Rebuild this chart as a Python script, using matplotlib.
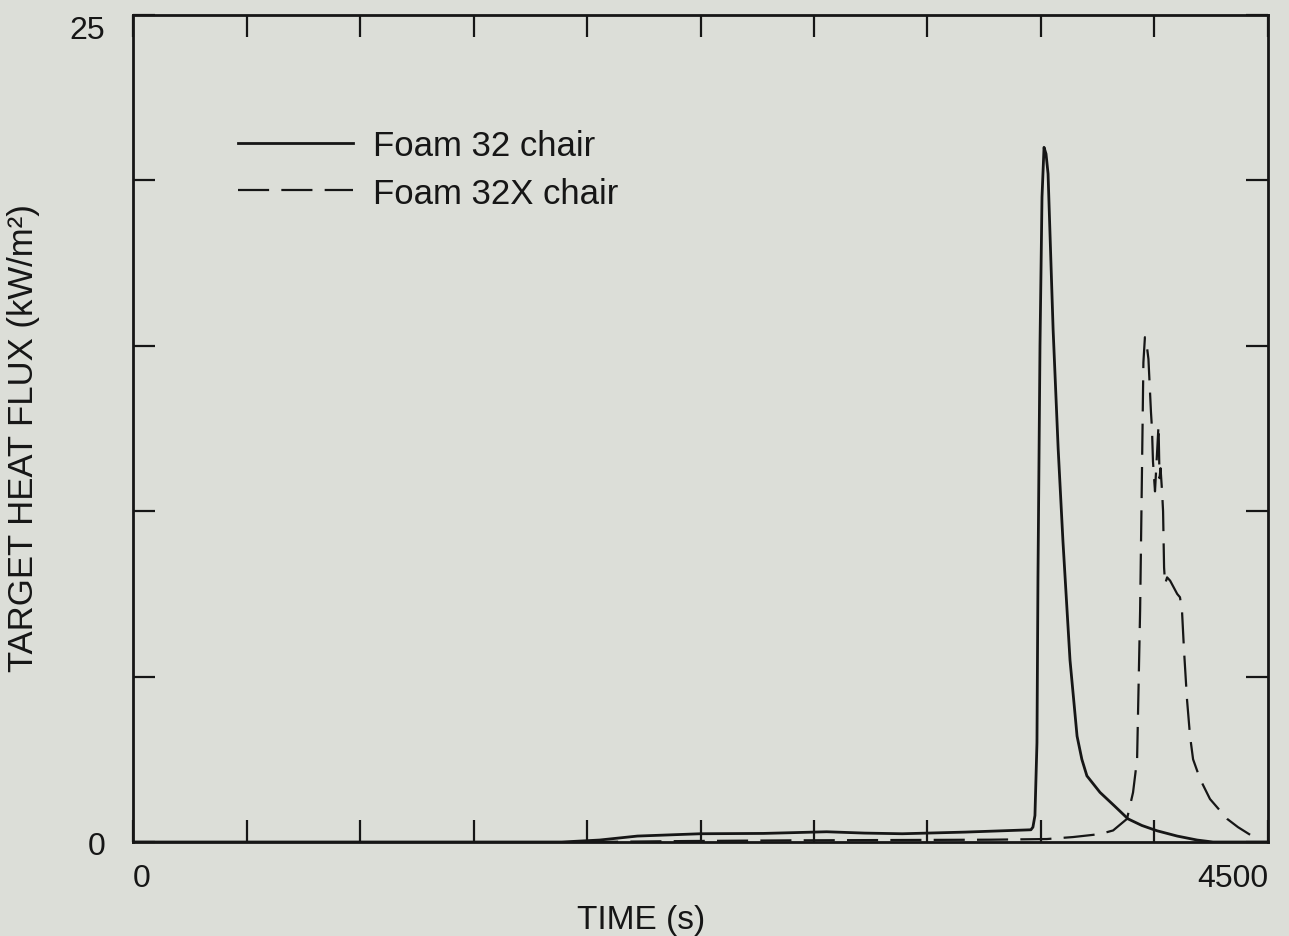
import numpy as np
import matplotlib
matplotlib.use("Agg")
import matplotlib.pyplot as plt

# time (s) and target heat flux (kW/m2)
foam32_t = [0, 1700, 1850, 2000, 2250, 2500, 2750, 2900, 3050, 3300, 3560,
            3568, 3576, 3584, 3588, 3596, 3604, 3612, 3620, 3628, 3648, 3668,
            3687, 3715, 3743, 3762, 3782, 3834, 3890, 3945, 4000, 4060, 4140,
            4219, 4282, 4500]
foam32_q = [0, 0, 0.06, 0.18, 0.25, 0.26, 0.31, 0.27, 0.25, 0.30, 0.37,
            0.45, 0.8, 3.0, 8.0, 15.0, 19.5, 21.0, 20.8, 20.2, 15.5, 11.9,
            9.1, 5.5, 3.2, 2.5, 2.0, 1.5, 1.1, 0.7, 0.5, 0.34, 0.18,
            0.06, 0.0, 0.0]

foam32x_t = [1800, 2200, 2600, 3000, 3400, 3623, 3727, 3834, 3886, 3941,
             3965, 3981, 3993, 4000, 4006, 4012, 4018, 4026, 4036, 4040, 4044,
             4052, 4066, 4070, 4074, 4080, 4084, 4088, 4092, 4100, 4112, 4140,
             4151, 4159, 4167, 4179, 4191, 4203, 4231, 4270, 4338, 4381, 4429]
foam32x_q = [0, 0.03, 0.05, 0.06, 0.07, 0.09, 0.15, 0.24, 0.35, 0.7,
             1.5, 2.5, 7.0, 11.0, 14.5, 15.26, 15.1, 14.6, 13.0, 12.5, 11.5,
             10.6, 12.6, 11.0, 11.3, 10.6, 10.0, 8.3, 7.8, 8.0, 7.9, 7.5,
             7.4, 7.0, 5.8, 4.3, 3.2, 2.5, 1.9, 1.3, 0.7, 0.45, 0.22]

labels = ["Foam 32 chair", "Foam 32X chair"]
x_ticks = np.arange(0, 4501, 450)
y_ticks = np.arange(0, 26, 5)

bg = "#dcded8"
ink = "#161616"

plt.rcParams["font.family"] = ["Liberation Sans", "DejaVu Sans"]

fig = plt.figure(figsize=(12.89, 9.37), dpi=100, facecolor=bg)
ax = fig.add_axes([0.1032, 0.1003, 0.8805, 0.8826], facecolor=bg)

ax.plot(foam32_t, foam32_q, color=ink, lw=2.0, label=labels[0])
ax.plot(foam32x_t, foam32x_q, color=ink, lw=1.6, dashes=(14, 5.5), label=labels[1])

ax.set_xlim(0, 4500)
ax.set_ylim(0, 25)
ax.set_xticks(x_ticks)
ax.set_xticklabels(["0"] + [""] * (len(x_ticks) - 2) + ["4500"])
ax.set_yticks(y_ticks)
ax.set_yticklabels(["0"] + [""] * (len(y_ticks) - 2) + ["25"])
ax.tick_params(direction="in", top=True, right=True, length=16, width=1.6,
               color=ink, labelcolor=ink, labelsize=23)
ax.tick_params(axis="x", pad=15)
ax.tick_params(axis="y", pad=20)
xl = ax.get_xticklabels()
xl[0].set_horizontalalignment("left")
xl[-1].set_horizontalalignment("right")
yl = ax.get_yticklabels()
yl[0].set_verticalalignment("center_baseline")
yl[-1].set_verticalalignment("top")

for s in ax.spines.values():
    s.set_linewidth(2.0)
    s.set_color(ink)

ax.set_xlabel("TIME (s)", fontsize=24, color=ink)
ax.xaxis.set_label_coords(0.448, -0.075)
ax.set_ylabel("TARGET HEAT FLUX (kW/m²)", fontsize=25, color=ink)
ax.yaxis.set_label_coords(-0.082, 0.49)

ax.legend(loc="upper left", bbox_to_anchor=(0.065, 0.9), frameon=False,
          fontsize=25, handlelength=3.3, handletextpad=0.6, labelspacing=0.42,
          labelcolor=ink)

fig.savefig("out.png", dpi=100, facecolor=bg)
